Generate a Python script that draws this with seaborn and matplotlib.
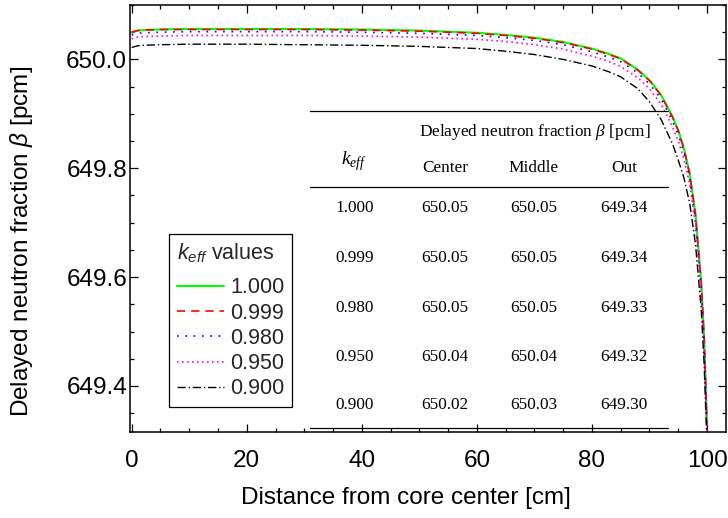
import matplotlib
matplotlib.use("Agg")
import matplotlib.pyplot as plt
from matplotlib.lines import Line2D
from matplotlib.ticker import MultipleLocator
import seaborn as sns
import pandas as pd

# ---------------- data ----------------
distance = [0, 1, 2, 5, 10, 20, 30, 40, 50, 60, 65, 70, 75, 80, 83, 85, 88, 90,
            92, 94, 95, 96, 97, 98, 99, 99.5, 100]

beta_1000 = [650.050, 650.053, 650.054, 650.055, 650.056, 650.056, 650.056, 650.055,
             650.053, 650.049, 650.045, 650.040, 650.032, 650.020, 650.010, 650.002,
             649.981, 649.962, 649.935, 649.895, 649.870, 649.836, 649.790, 649.715,
             649.590, 649.490, 649.330]
beta_0999 = [650.050, 650.053, 650.054, 650.055, 650.055, 650.055, 650.055, 650.054,
             650.052, 650.048, 650.044, 650.039, 650.031, 650.019, 650.009, 650.001,
             649.980, 649.961, 649.934, 649.894, 649.869, 649.835, 649.789, 649.714,
             649.589, 649.489, 649.329]
beta_0980 = [650.045, 650.048, 650.049, 650.050, 650.051, 650.051, 650.051, 650.050,
             650.048, 650.044, 650.040, 650.035, 650.027, 650.014, 650.004, 649.996,
             649.975, 649.955, 649.928, 649.887, 649.862, 649.828, 649.781, 649.705,
             649.580, 649.480, 649.320]
beta_0950 = [650.038, 650.041, 650.042, 650.043, 650.044, 650.044, 650.044, 650.043,
             650.041, 650.037, 650.033, 650.027, 650.019, 650.006, 649.996, 649.987,
             649.966, 649.946, 649.918, 649.876, 649.850, 649.816, 649.770, 649.695,
             649.570, 649.470, 649.310]
beta_0900 = [650.022, 650.025, 650.026, 650.027, 650.028, 650.028, 650.027, 650.026,
             650.024, 650.020, 650.015, 650.009, 650.000, 649.988, 649.977, 649.968,
             649.946, 649.922, 649.890, 649.845, 649.815, 649.782, 649.735, 649.660,
             649.540, 649.440, 649.290]

keff_labels = ["1.000", "0.999", "0.980", "0.950", "0.900"]
table_center = ["650.05", "650.05", "650.05", "650.04", "650.02"]
table_middle = ["650.05", "650.05", "650.05", "650.04", "650.03"]
table_out = ["649.34", "649.34", "649.33", "649.32", "649.30"]

series = [beta_1000, beta_0999, beta_0980, beta_0950, beta_0900]
colors = ["#00ff00", "#ff0000", "#0000ff", "#ff00ff", "#000000"]
styles = ["-", (0, (5, 3.5)), (0, (1, 4)), (0, (1, 2)), (0, (6, 2, 1, 2))]
widths = [1.5, 1.2, 1.2, 1.2, 1.0]

# ---------------- style ----------------
sns.set_theme(style="ticks")
plt.rcParams["font.family"] = ["Liberation Sans", "DejaVu Sans"]
plt.rcParams["mathtext.fontset"] = "custom"
plt.rcParams["mathtext.rm"] = "Liberation Sans"
plt.rcParams["mathtext.it"] = "Liberation Sans:italic"
plt.rcParams["mathtext.tt"] = "Liberation Serif:italic"

W, H = 728, 518
fig = plt.figure(figsize=(W / 100, H / 100), dpi=100)
ax = fig.add_axes([130 / W, 1 - 431.7 / H, (726 - 130) / W, (431.7 - 5) / H])

for ys, lab, c, ls, lw in zip(series, keff_labels, colors, styles, widths):
    df = pd.DataFrame({"x": distance, "y": ys})
    sns.lineplot(data=df, x="x", y="y", ax=ax, color=c, linestyle=ls, linewidth=lw,
                 label=lab, estimator=None, sort=False)

ax.set_xlim(-0.3, 103.3)
ax.set_ylim(649.316, 650.10)
ax.xaxis.set_major_locator(MultipleLocator(20))
ax.xaxis.set_minor_locator(MultipleLocator(5))
ax.yaxis.set_major_locator(MultipleLocator(0.2))
ax.yaxis.set_minor_locator(MultipleLocator(0.05))
ax.yaxis.set_major_formatter(matplotlib.ticker.FormatStrFormatter("%.1f"))

for s in ax.spines.values():
    s.set_visible(True)
    s.set_linewidth(1.1)
    s.set_color("black")
ax.tick_params(which="both", direction="in", top=True, right=True, color="black",
               width=0.9, labelsize=17.5, labelcolor="black")
ax.tick_params(which="major", length=6)
ax.tick_params(which="minor", length=3)
ax.tick_params(axis="x", which="major", pad=13)
ax.tick_params(axis="y", which="major", pad=2)

ax.set_xlabel("Distance from core center [cm]", fontsize=17.5, color="black")
ax.set_ylabel(r"Delayed neutron fraction $\beta$ [pcm]", fontsize=17.5, color="black")
ax.xaxis.label.set_va("center")
ax.yaxis.label.set_va("center")
ax.xaxis.set_label_coords((406 - 130) / 596, (431.7 - 498) / 426.7)
ax.yaxis.set_label_coords((22 - 130) / 596, (431.7 - 241) / 426.7)

leg = ax.legend(title=r"$k_{eff}$ values", loc="lower left",
                bbox_to_anchor=((169 - 130) / 596, (431.7 - 407) / 426.7),
                borderaxespad=0, fontsize=15.5, title_fontsize=15.5,
                frameon=True, fancybox=False, handlelength=2.2, labelspacing=0.2,
                handletextpad=0.3, borderpad=0.35, alignment="left")
leg._legend_box.sep = 9
leg.get_frame().set_edgecolor("black")
leg.get_frame().set_linewidth(0.9)
leg.get_frame().set_alpha(1)

# ---------------- inset table ----------------
def fx(px):
    return px / W

def fy(py):
    return 1 - py / H

tkw = dict(family=["Liberation Serif", "DejaVu Serif"], fontsize=12.4, color="black",
           ha="center", va="center")
for y in (111, 186.5, 428.3):
    fig.add_artist(Line2D([fx(310), fx(668)], [fy(y), fy(y)], color="black", lw=0.9))

fig.text(fx(354), fy(161), r"$\mathtt{k}_{\mathtt{eff}}$", **{**tkw, "fontsize": 14})
fig.text(fx(534.5), fy(131.7), r"Delayed neutron fraction $\mathtt{\beta}$ [pcm]", **tkw)
col_x = [445, 534, 624]
for cx, name in zip(col_x, ["Center", "Middle", "Out"]):
    fig.text(fx(cx), fy(168.3), name, **tkw)
row_y = [208.3, 258.3, 308.3, 357.3, 405]
for ry, k, c1, c2, c3 in zip(row_y, keff_labels, table_center, table_middle, table_out):
    fig.text(fx(354.5), fy(ry), k, **tkw)
    fig.text(fx(col_x[0]), fy(ry), c1, **tkw)
    fig.text(fx(col_x[1]), fy(ry), c2, **tkw)
    fig.text(fx(col_x[2]), fy(ry), c3, **tkw)

fig.savefig("out.png", dpi=100)
